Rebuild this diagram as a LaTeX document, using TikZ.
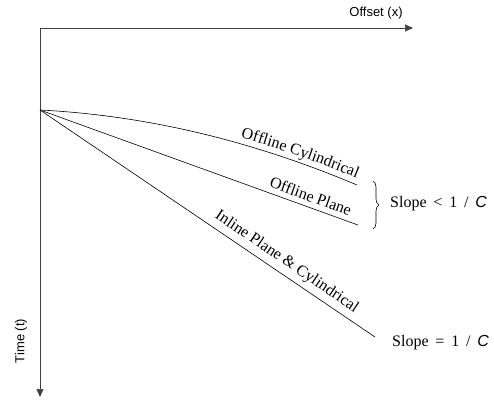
\documentclass[tikz,border=0pt]{standalone}
\usepackage{fontspec}
\setmainfont{Liberation Serif}
\newfontfamily\sansf{Liberation Sans}
\usetikzlibrary{arrows.meta,decorations.text,decorations.pathreplacing}
\newcommand\lab{\fontsize{16}{19}\selectfont}
\newcommand\axlab{\sansf\fontsize{13}{15}\selectfont}
\newcommand\wide{\spaceskip=6.8pt\relax}
\tikzset{
  axis/.style={line width=0.7pt, draw=black!75, -{Triangle[length=8pt,width=7pt]}},
  wave/.style={line width=0.6pt, draw=black},
  curvelab/.style={font=\lab, inner sep=0pt},
  axistext/.style={font=\axlab, inner sep=0pt},
}
\begin{document}
\begin{tikzpicture}[x=1pt,y=-1pt]
\useasboundingbox (0,0) rectangle (494,400);
\coordinate (O) at (40,28);
\coordinate (xend) at (413,28);
\coordinate (yend) at (40,397);
\coordinate (S) at (40,110);
\coordinate (ce) at (357,185);
\coordinate (pe) at (358,225);
\coordinate (ie) at (375,337);
\coordinate (bt) at (373,181);
\coordinate (bb) at (373,229);

\draw[axis] (O) -- (xend);
\draw[axis] (O) -- (yend);
\node[axistext] (xl) at (376,13) {Offset (x)};
\node[axistext, rotate=90] (tl) at (21,341) {Time (t)};

\draw[wave] (S) .. controls (145.67,115.4) and (251.33,140.4) .. (ce);
\path[decorate, decoration={text along path, text={|\lab|Offline Cylindrical}, text align={align=right, right indent=3pt}, raise=6pt}]
  (S) .. controls (145.67,115.4) and (251.33,140.4) .. (ce);

\draw[wave] (S) -- (pe) node[curvelab, pos=0.84, sloped, above=5pt] (pl) {Offline Plane};
\draw[wave] (S) -- (ie) node[curvelab, pos=0.715, sloped, above=5pt] (il) {Inline Plane \& Cylindrical};

\draw[line width=0.6pt, decorate, decoration={brace, amplitude=6pt}] (bt) -- (bb);
\node[curvelab, anchor=west] (s1) at (390,204) {\wide Slope < 1 / {\sansf\itshape C}};
\node[curvelab, anchor=west] (s2) at (392,343) {\wide Slope = 1 / {\sansf\itshape C}};
\end{tikzpicture}
\end{document}
